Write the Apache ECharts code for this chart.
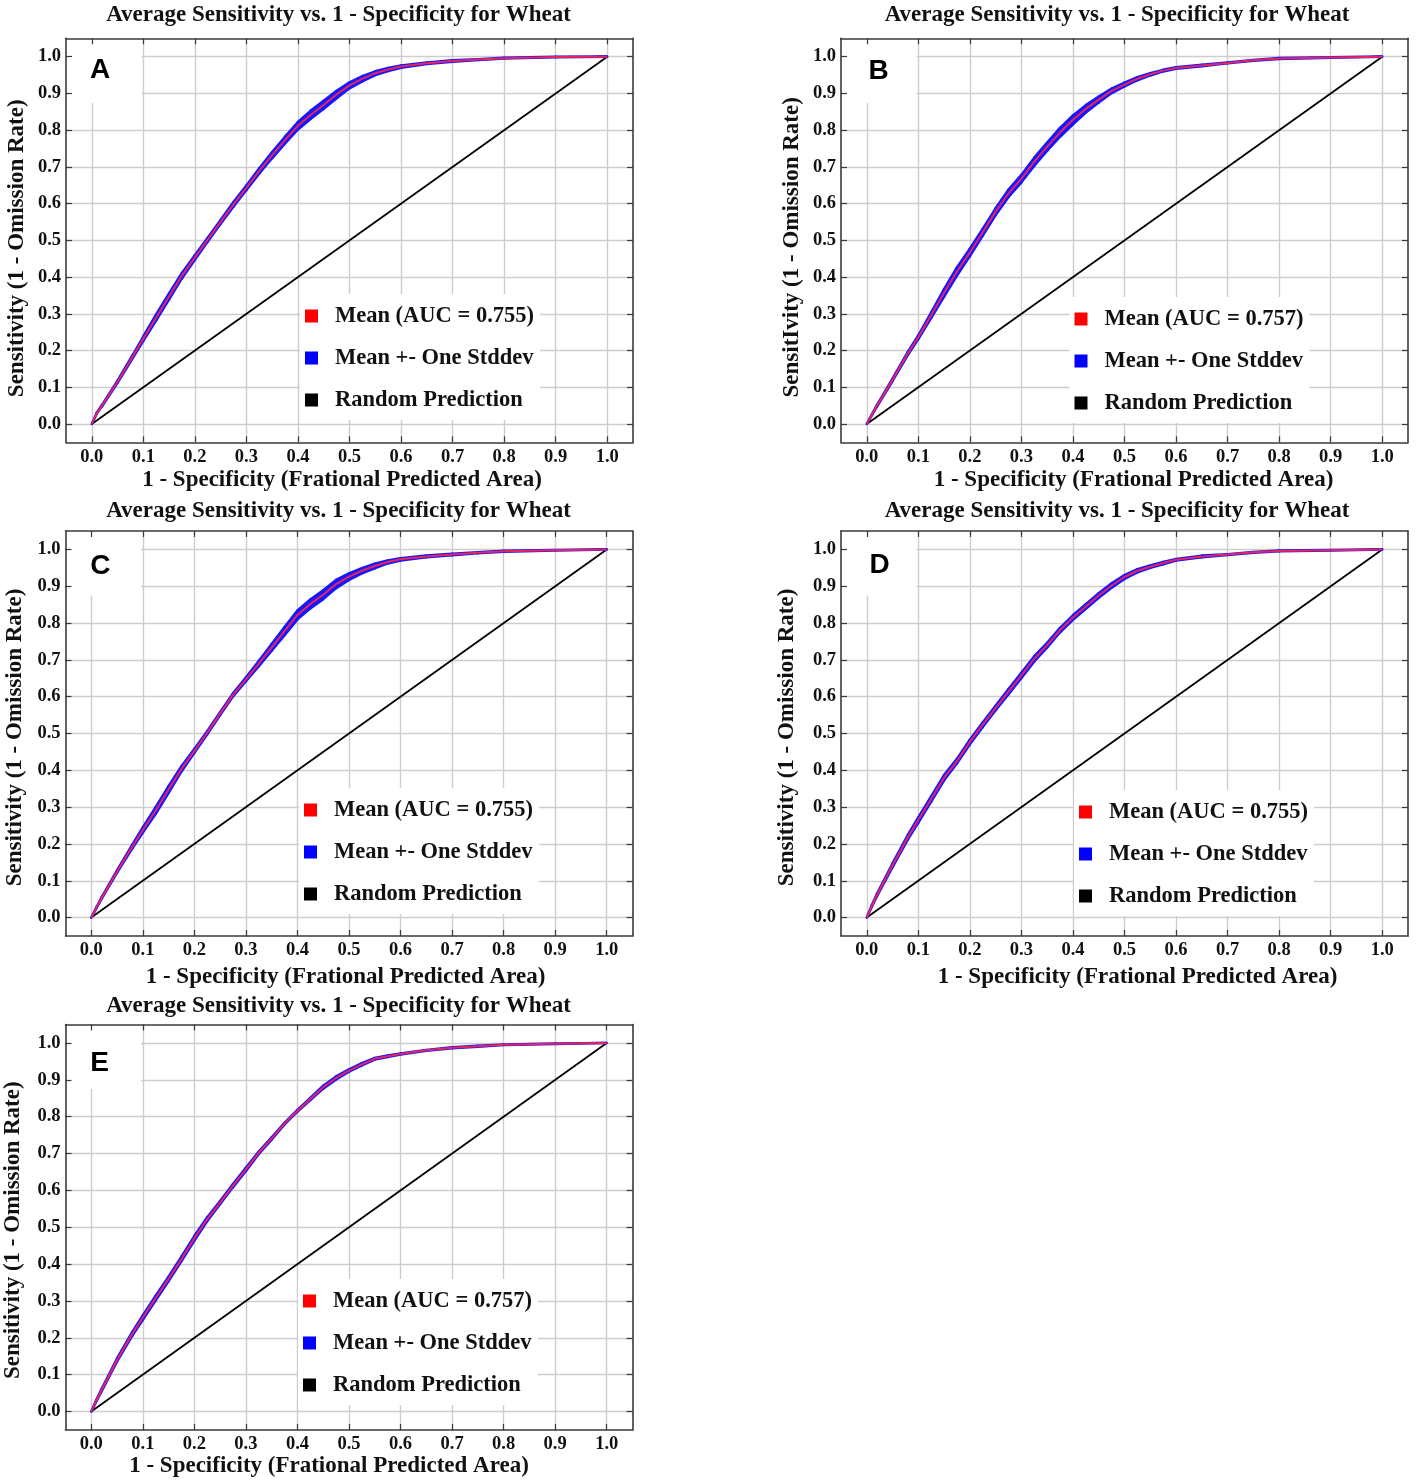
<!DOCTYPE html>
<html>
<head>
<meta charset="utf-8">
<script src="https://cdn.jsdelivr.net/npm/echarts@6/dist/echarts.min.js"></script>
<style>
  html, body { margin: 0; padding: 0; background: #fff; }
  #main { width: 1417px; height: 1484px; }
</style>
</head>
<body>
<div id="main"></div>
<script>
// 1 - specificity sample points shared by all panels
var fpr = [0, 0.01, 0.02, 0.05, 0.08, 0.1, 0.125, 0.15, 0.175, 0.2, 0.225, 0.25, 0.275, 0.3, 0.325, 0.35,
  0.375, 0.4, 0.425, 0.45, 0.475, 0.5, 0.525, 0.55, 0.575, 0.6, 0.65, 0.7, 0.75, 0.8, 0.9, 1.0];

// mean sensitivity
var meanA = [0, 0.03, 0.05, 0.115, 0.185, 0.232, 0.29, 0.347, 0.404, 0.453, 0.502, 0.55, 0.598, 0.643, 0.689, 0.732,
  0.773, 0.812, 0.842, 0.869, 0.897, 0.922, 0.94, 0.955, 0.965, 0.973, 0.982, 0.988, 0.992, 0.996, 0.999, 1.0];
var meanB = [0, 0.025, 0.05, 0.12, 0.193, 0.236, 0.296, 0.357, 0.415, 0.467, 0.522, 0.578, 0.628, 0.668, 0.714, 0.755,
  0.794, 0.828, 0.858, 0.883, 0.907, 0.924, 0.94, 0.952, 0.962, 0.969, 0.976, 0.983, 0.99, 0.995, 0.998, 1.0];
var meanC = [0, 0.027, 0.053, 0.125, 0.194, 0.238, 0.291, 0.348, 0.404, 0.453, 0.502, 0.554, 0.605, 0.647, 0.69, 0.734,
  0.778, 0.822, 0.852, 0.877, 0.906, 0.926, 0.942, 0.955, 0.966, 0.973, 0.981, 0.986, 0.991, 0.995, 0.998, 1.0];
var meanD = [0, 0.032, 0.062, 0.142, 0.219, 0.265, 0.322, 0.38, 0.425, 0.477, 0.524, 0.569, 0.614, 0.658, 0.703, 0.74,
  0.781, 0.815, 0.845, 0.875, 0.902, 0.925, 0.942, 0.953, 0.963, 0.972, 0.981, 0.986, 0.992, 0.996, 0.998, 1.0];
var meanE = [0, 0.03, 0.058, 0.14, 0.212, 0.255, 0.308, 0.36, 0.414, 0.47, 0.522, 0.567, 0.613, 0.657, 0.702, 0.741,
  0.781, 0.816, 0.848, 0.88, 0.905, 0.925, 0.942, 0.957, 0.964, 0.97, 0.98, 0.987, 0.991, 0.995, 0.998, 1.0];

// one standard deviation around the mean
var sdA = [0, 0.001, 0.002, 0.003, 0.004, 0.006, 0.008, 0.008, 0.007, 0.006, 0.005, 0.005, 0.006, 0.006, 0.007, 0.008,
  0.009, 0.01, 0.011, 0.011, 0.01, 0.008, 0.007, 0.005, 0.004, 0.003, 0.002, 0.002, 0.001, 0.001, 0.0005, 0];
var sdB = [0, 0.001, 0.002, 0.003, 0.004, 0.005, 0.007, 0.01, 0.011, 0.01, 0.009, 0.009, 0.01, 0.01, 0.011, 0.011,
  0.012, 0.012, 0.01, 0.008, 0.006, 0.005, 0.004, 0.003, 0.002, 0.002, 0.002, 0.001, 0.001, 0.001, 0.0005, 0];
var sdC = [0, 0.001, 0.002, 0.003, 0.005, 0.007, 0.009, 0.009, 0.007, 0.005, 0.004, 0.004, 0.004, 0.005, 0.007, 0.009,
  0.011, 0.012, 0.012, 0.012, 0.011, 0.009, 0.007, 0.006, 0.004, 0.003, 0.002, 0.002, 0.001, 0.001, 0.0005, 0];
var sdD = [0, 0.002, 0.003, 0.005, 0.006, 0.007, 0.007, 0.007, 0.006, 0.006, 0.006, 0.006, 0.007, 0.007, 0.007, 0.006,
  0.006, 0.006, 0.006, 0.006, 0.006, 0.005, 0.004, 0.003, 0.003, 0.002, 0.002, 0.001, 0.001, 0.001, 0.0005, 0];
var sdE = [0, 0.002, 0.003, 0.004, 0.005, 0.006, 0.006, 0.006, 0.006, 0.006, 0.005, 0.004, 0.004, 0.004, 0.003, 0.003,
  0.002, 0.002, 0.003, 0.004, 0.004, 0.003, 0.003, 0.002, 0.002, 0.001, 0.001, 0.001, 0.001, 0.0005, 0.0005, 0];

var randomX = [0, 1];
var randomY = [0, 1];

var tickValues = [0, 0.1, 0.2, 0.3, 0.4, 0.5, 0.6, 0.7, 0.8, 0.9, 1.0];

var panelLetters = ['A', 'B', 'C', 'D', 'E'];
var meanNames = ['Mean (AUC = 0.755)', 'Mean (AUC = 0.757)', 'Mean (AUC = 0.755)', 'Mean (AUC = 0.755)', 'Mean (AUC = 0.757)'];
var yNames = ['Sensitivity (1 - Omission Rate)', 'SensitIvity (1 - Omission Rate)', 'Sensitivity (1 - Omission Rate)',
  'Sensitivity (1 - Omission Rate)', 'Sensitivity (1 - Omission Rate)'];
var xName = '1 - Specificity (Frational Predicted Area)';
var titleText = 'Average Sensitivity vs. 1 - Specificity for Wheat';
var sdName = 'Mean +- One Stddev';
var randomName = 'Random Prediction';

var means = [meanA, meanB, meanC, meanD, meanE];
var sds = [sdA, sdB, sdC, sdD, sdE];

// panel layout (pixels)
var layout = [
  { left: 66,  top: 38.3,   h: 404,   title: [338.5, 15],    letter: [100, 70],      xGap: 26.5, xShift: -7.5, yGap: 37,   yShift: 8, legend: [300, 294] },
  { left: 841, top: 38.3,   h: 404,   title: [1117, 15],     letter: [878.5, 71.5],  xGap: 26.5, xShift: 9,    yGap: 37.5, yShift: 7, legend: [1069.5, 297] },
  { left: 65.5, top: 531,   h: 405,   title: [338.5, 511.5], letter: [100.3, 566],   xGap: 29.5, xShift: -3.5, yGap: 38.5, yShift: 4, legend: [299, 788] },
  { left: 841, top: 531,    h: 405,   title: [1117, 511.5],  letter: [879.5, 565],   xGap: 29.5, xShift: 13,   yGap: 42,   yShift: 4, legend: [1074, 790] },
  { left: 65.5, top: 1024.5, h: 405.5, title: [338.5, 1006.5], letter: [99.5, 1063], xGap: 22.5, xShift: -20,  yGap: 40.5, yShift: 3, legend: [298, 1279] }
];
var gridW = 567;

var serif = 'Liberation Serif, Times New Roman, serif';
var frameColor = '#3a3a3a';
var gridColor = '#cdcdcd';
var bandColor = '#1717ff';
var meanColor = '#e8245a';

function pairs(xs, ys) {
  return xs.map(function (x, i) { return [x, ys[i]]; });
}
function fmt(v) { return v.toFixed(1); }

// band between lower and upper, drawn segment by segment
function bandRenderer(lo, up) {
  return function (params, api) {
    var k = params.dataIndex;
    if (k >= fpr.length - 1) return null;
    var pts = [
      api.coord([fpr[k], up[k]]), api.coord([fpr[k + 1], up[k + 1]]),
      api.coord([fpr[k + 1], lo[k + 1]]), api.coord([fpr[k], lo[k]])
    ];
    return {
      type: 'polygon',
      shape: { points: pts },
      style: { fill: bandColor, stroke: bandColor, lineWidth: 2.6, lineJoin: 'round' }
    };
  };
}

var grids = [], xAxes = [], yAxes = [], series = [], legends = [], graphics = [];

layout.forEach(function (p, i) {
  grids.push({ left: p.left, top: p.top, width: gridW, height: p.h, outerBoundsMode: 'none' });

  var xPad = p.xShift > 0 ? [0, 0, 0, 2 * p.xShift] : [0, -2 * p.xShift, 0, 0];
  // bottom x axis: frame, ticks, labels, vertical grid lines
  xAxes.push({
    type: 'value', gridIndex: i, position: 'bottom', min: -0.05, max: 1.05, z: 0,
    axisLine: { show: true, onZero: false, lineStyle: { color: frameColor, width: 1.6 } },
    axisTick: { show: true, inside: true, length: 6, customValues: tickValues, lineStyle: { color: frameColor, width: 1.2 } },
    axisLabel: { customValues: tickValues, formatter: fmt, margin: 5, fontFamily: serif, fontWeight: 'bold', fontSize: 18.5, color: '#111' },
    splitLine: { show: true, lineStyle: { color: gridColor, width: 1.4 } },
    name: xName, nameLocation: 'middle', nameGap: p.xGap,
    nameTextStyle: { fontFamily: serif, fontWeight: 'bold', fontSize: 23, color: '#111', padding: xPad }
  });
  // top x axis: frame and inward ticks only
  xAxes.push({
    type: 'value', gridIndex: i, position: 'top', min: -0.05, max: 1.05, z: 3,
    axisLine: { show: true, onZero: false, lineStyle: { color: frameColor, width: 1.6 } },
    axisTick: { show: true, inside: true, length: 6, customValues: tickValues, lineStyle: { color: frameColor, width: 1.2 } },
    axisLabel: { show: false },
    splitLine: { show: false }
  });
  // left y axis: frame, ticks, labels, name
  yAxes.push({
    type: 'value', gridIndex: i, position: 'left', min: -0.05, max: 1.05, z: 3,
    axisLine: { show: true, onZero: false, lineStyle: { color: frameColor, width: 1.6 } },
    axisTick: { show: true, inside: true, length: 6, customValues: tickValues, lineStyle: { color: frameColor, width: 1.2 } },
    axisLabel: { customValues: tickValues, formatter: fmt, margin: 5, fontFamily: serif, fontWeight: 'bold', fontSize: 18.5, color: '#111' },
    splitLine: { show: false },
    name: yNames[i], nameLocation: 'middle', nameGap: p.yGap,
    nameTextStyle: { fontFamily: serif, fontWeight: 'bold', fontSize: 23, color: '#111', padding: [0, 2 * p.yShift, 0, 0] }
  });
  // right y axis: frame, ticks, horizontal grid lines
  yAxes.push({
    type: 'value', gridIndex: i, position: 'right', min: -0.05, max: 1.05, z: 0,
    axisLine: { show: true, onZero: false, lineStyle: { color: frameColor, width: 1.6 } },
    axisTick: { show: true, inside: true, length: 6, customValues: tickValues, lineStyle: { color: frameColor, width: 1.2 } },
    axisLabel: { show: false },
    splitLine: { show: true, lineStyle: { color: gridColor, width: 1.4 } }
  });

  var m = means[i], s = sds[i];
  var upper = m.map(function (v, k) { return v + s[k]; });
  var lower = m.map(function (v, k) { return v - s[k]; });
  var ax = 2 * i;

  series.push({
    type: 'line', name: randomName, xAxisIndex: ax, yAxisIndex: ax, symbol: 'none', silent: true, z: 2,
    data: pairs(randomX, randomY),
    itemStyle: { color: '#000' }, lineStyle: { color: '#000', width: 1.8 }
  });
  series.push({
    type: 'custom', name: sdName, xAxisIndex: ax, yAxisIndex: ax, silent: true, z: 3,
    data: fpr.map(function (x, k) { return [x, lower[k], upper[k]]; }),
    encode: { x: 0, y: [1, 2] },
    itemStyle: { color: bandColor },
    renderItem: bandRenderer(lower, upper)
  });
  series.push({
    type: 'line', name: meanNames[i], xAxisIndex: ax, yAxisIndex: ax, symbol: 'none', silent: true, z: 4,
    data: pairs(fpr, m),
    itemStyle: { color: meanColor }, lineStyle: { color: meanColor, width: 2 }
  });

  legends.push({
    left: p.legend[0], top: p.legend[1], orient: 'vertical', selectedMode: false,
    backgroundColor: '#fff', padding: [10, 6, 8, 5],
    icon: 'rect', itemWidth: 13, itemHeight: 13, itemGap: 18,
    textStyle: { fontFamily: serif, fontWeight: 'bold', fontSize: 22.5, color: '#111', lineHeight: 24, padding: [0, 0, 0, 12] },
    data: [
      { name: meanNames[i], itemStyle: { color: '#ff0000', borderWidth: 0 } },
      { name: sdName, itemStyle: { color: '#0000ff', borderWidth: 0 } },
      { name: randomName, itemStyle: { color: '#000000', borderWidth: 0 } }
    ]
  });

  // white patch behind the panel letter
  graphics.push({
    type: 'rect', z: 1, silent: true,
    shape: { x: p.left + 1.5, y: p.top + 1.5, width: 74, height: 63 },
    style: { fill: '#fff' }
  });
  graphics.push({
    type: 'text', z: 5, silent: true, x: p.letter[0], y: p.letter[1],
    style: { text: panelLetters[i], fontFamily: 'Liberation Sans, Arial, sans-serif', fontWeight: 'bold', fontSize: 28, fill: '#000', align: 'center', verticalAlign: 'middle' }
  });
  graphics.push({
    type: 'text', z: 5, silent: true, x: p.title[0], y: p.title[1],
    style: { text: titleText, fontFamily: serif, fontWeight: 'bold', fontSize: 23, fill: '#111', align: 'center', verticalAlign: 'middle' }
  });
});

var myChart = echarts.init(document.getElementById('main'));
var option = {
  backgroundColor: '#fff',
  animation: false,
  grid: grids,
  xAxis: xAxes,
  yAxis: yAxes,
  legend: legends,
  series: series,
  graphic: { elements: graphics }
};
myChart.setOption(option);
</script>
</body>
</html>
